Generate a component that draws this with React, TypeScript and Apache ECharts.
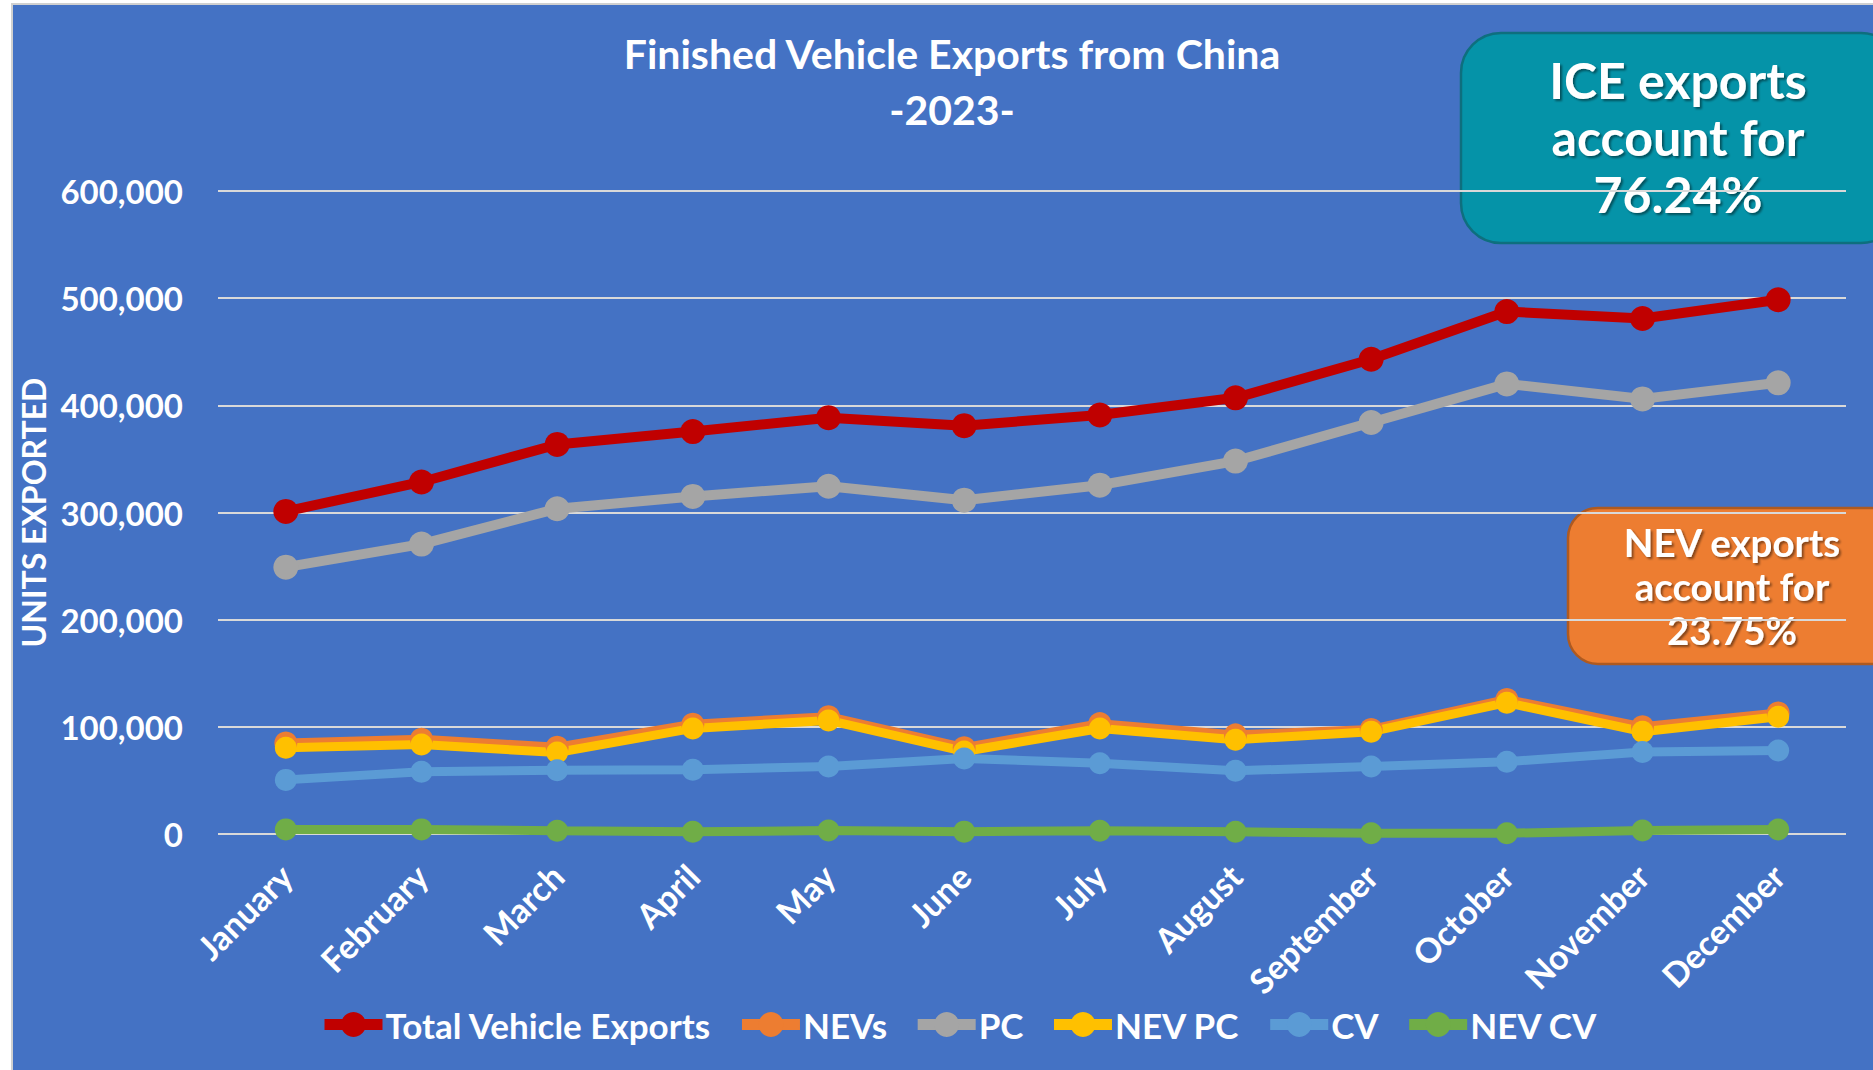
import React, { useEffect, useRef } from "react";
import * as echarts from "echarts";

const months = [
  "January", "February", "March", "April", "May", "June",
  "July", "August", "September", "October", "November", "December",
];
const totalExports = [301000, 328500, 363500, 375500, 388500, 381000, 391000, 407000, 443000, 487500, 481000, 498500];
const nevs = [85000, 88500, 81000, 102500, 109500, 80500, 103000, 92500, 97500, 125500, 100000, 113000];
const pc = [249000, 270500, 303500, 315000, 324500, 311500, 325500, 348000, 384000, 420000, 406000, 421000];
const nevPc = [80500, 83500, 76000, 98500, 106000, 77000, 98500, 88000, 95500, 122500, 95500, 109500];
const cv = [50500, 58000, 59500, 60000, 63000, 70500, 66000, 59000, 63000, 67500, 76500, 78000];
const nevCv = [4300, 4300, 3000, 2100, 3200, 2200, 3100, 2100, 700, 700, 3200, 4200];

const titleLines = ["Finished Vehicle Exports from China", "-2023-"];
const iceNote = "ICE exports\naccount for\n76.24%";
const nevNote = "NEV exports\naccount for\n23.75%";

const FONT = "Lato, 'Noto Sans', sans-serif";

export default function App() {
  const ref = useRef<HTMLDivElement>(null);
  useEffect(() => {
    const chart = echarts.init(ref.current!, null, { renderer: "svg" });
    const mk = (name: string, data: number[], color: string, width: number, size: number) => ({
      name,
      type: "line",
      data,
      symbol: "circle",
      symbolSize: size,
      showSymbol: true,
      lineStyle: { color, width },
      itemStyle: { color },
      emphasis: { disabled: true },
    });
    chart.setOption({
      animation: false,
      backgroundColor: "transparent",
      textStyle: { fontFamily: FONT },
      grid: { left: 218, right: 27, top: 191, bottom: 236 },
      xAxis: {
        type: "category",
        data: months,
        boundaryGap: true,
        axisLine: { show: false },
        axisTick: { show: false },
        axisLabel: {
          rotate: 45,
          interval: 0,
          margin: 36,
          color: "#FFFFFF",
          fontSize: 34,
          fontWeight: "bold",
          fontFamily: FONT,
        },
      },
      yAxis: {
        type: "value",
        min: 0,
        max: 600000,
        interval: 100000,
        name: "UNITS EXPORTED",
        nameLocation: "middle",
        nameRotate: 90,
        nameGap: 153,
        nameTextStyle: { color: "#FFFFFF", fontSize: 32, fontWeight: "bold", fontFamily: FONT },
        axisLine: { show: false },
        axisTick: { show: false },
        splitLine: { show: true, lineStyle: { color: "#D9D9D9", width: 2 } },
        axisLabel: {
          margin: 35,
          color: "#FFFFFF",
          fontSize: 33,
          fontWeight: "bold",
          fontFamily: FONT,
          formatter: (v: number) => v.toLocaleString("en-US"),
        },
      },
      legend: {
        left: 319,
        top: 1007,
        padding: 0,
        itemWidth: 58,
        itemHeight: 31,
        itemGap: 25,
        lineStyle: { width: 11 },
        textStyle: { color: "#FFFFFF", fontSize: 35, fontWeight: "bold", fontFamily: FONT, padding: [0, 0, 0, -2] },
        data: ["Total Vehicle Exports", "NEVs", "PC", "NEV PC", "CV", "NEV CV"],
      },
      series: [
        mk("Total Vehicle Exports", totalExports, "#C00000", 10, 25),
        mk("NEVs", nevs, "#ED7D31", 9, 23),
        mk("PC", pc, "#A5A5A5", 10, 25),
        mk("NEV PC", nevPc, "#FFC000", 9, 22),
        mk("CV", cv, "#5B9BD5", 9, 22),
        mk("NEV CV", nevCv, "#70AD47", 9, 22),
      ],
      graphic: [
        {
          type: "text",
          x: 952,
          y: 53,
          style: {
            text: titleLines[0],
            fill: "#FFFFFF",
            font: `bold 41px ${FONT}`,
            textAlign: "center",
            textVerticalAlign: "middle",
          },
        },
        {
          type: "text",
          x: 952,
          y: 109,
          style: {
            text: titleLines[1],
            fill: "#FFFFFF",
            font: `bold 41px ${FONT}`,
            textAlign: "center",
            textVerticalAlign: "middle",
          },
        },
        {
          type: "rect",
          shape: { x: 1461, y: 33, width: 440, height: 210, r: 40 },
          style: { fill: "#0593A8", stroke: "#0E6F7E", lineWidth: 2.5 },
        },
        {
          type: "text",
          x: 1678,
          y: 137,
          style: {
            text: iceNote,
            fill: "#FFFFFF",
            font: `bold 50px ${FONT}`,
            lineHeight: 57,
            textAlign: "center",
            textVerticalAlign: "middle",
            textShadowColor: "rgba(0,0,0,0.45)",
            textShadowOffsetX: 2,
            textShadowOffsetY: 2,
            textShadowBlur: 2,
          },
        },
        {
          type: "rect",
          shape: { x: 1568, y: 508, width: 340, height: 156, r: 30 },
          style: { fill: "#ED7D31", stroke: "#AE5A21", lineWidth: 2.5 },
        },
        {
          type: "text",
          x: 1732,
          y: 586,
          style: {
            text: nevNote,
            fill: "#FFFFFF",
            font: `bold 38.5px ${FONT}`,
            lineHeight: 44,
            textAlign: "center",
            textVerticalAlign: "middle",
            textShadowColor: "rgba(0,0,0,0.45)",
            textShadowOffsetX: 2,
            textShadowOffsetY: 2,
            textShadowBlur: 2,
          },
        },
      ],
    });
    return () => chart.dispose();
  }, []);
  return (
    <div style={{ position: "absolute", left: 0, top: 0, width: 1873, height: 1070, background: "#FFFFFF", overflow: "hidden" }}>
      <div
        style={{
          position: "absolute",
          left: 11,
          top: 3,
          width: 1880,
          height: 1080,
          background: "#4472C4",
          borderLeft: "2px solid #D0D0D0",
          borderTop: "2px solid #D0D0D0",
        }}
      />
      <div ref={ref} style={{ position: "absolute", left: 0, top: 0, width: 1873, height: 1070 }} />
    </div>
  );
}
